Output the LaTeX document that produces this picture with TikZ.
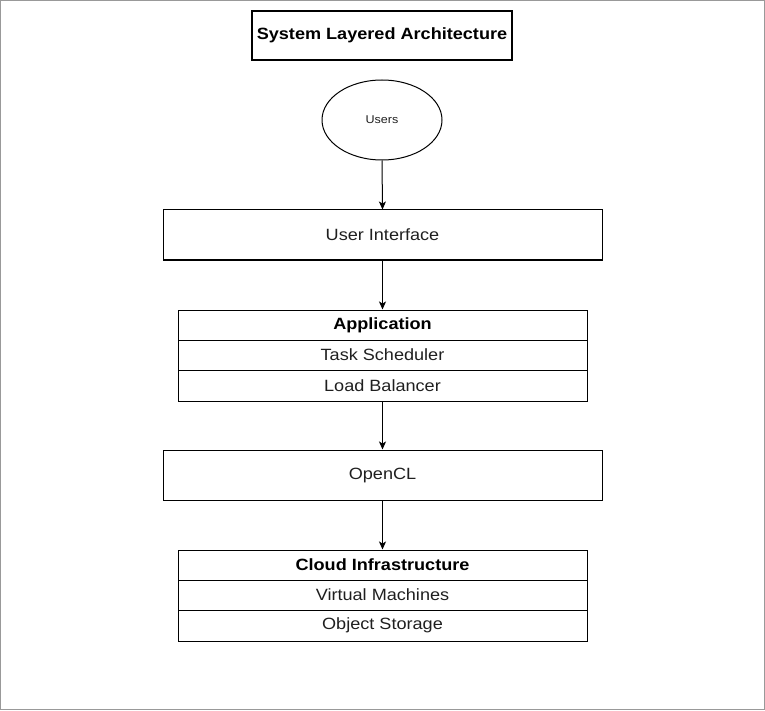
\documentclass[tikz,border=0pt]{standalone}
\usepackage{fontspec}
\setmainfont{Liberation Sans}[FakeStretch=1.11]
\usetikzlibrary{arrows.meta,shapes.geometric}
\begin{document}
\begin{tikzpicture}[x=1pt,y=-1pt,
  box/.style={draw=black,line width=1pt,minimum width=#1,minimum height=50pt,inner sep=0pt,font=\fontsize{16.3}{19}\selectfont,text=black!88},
  row/.style={draw=black,line width=1pt,minimum width=409pt,minimum height=30pt,inner sep=0pt,font=\fontsize{16.3}{19}\selectfont,text=black!88},
  hdr/.style={row,font=\fontsize{16.3}{19}\selectfont\bfseries,text=black},
  arr/.style={line width=1pt,-{Stealth[length=8pt,width=7pt,inset=2pt]}}]
\useasboundingbox (0,0) rectangle (765,711);
\draw[gray!80,line width=1pt] (0.5,0.5) rectangle (764,709.5);
\node[draw=black,line width=2.5pt,minimum width=260pt,minimum height=49pt,inner sep=0pt,font=\fontsize{16.3}{19}\selectfont\bfseries] (title) at (382,35.5) {System Layered Architecture};
\node[ellipse,draw=black,line width=1pt,minimum width=120pt,minimum height=80pt,inner sep=0pt,font=\fontsize{11.3}{13}\selectfont,text=black!88] (users) at (382,120) {Users};
\node[box=439pt] (ui) at (382.5,235) {User Interface};
\node[hdr] (app) at (382.5,325) {Application};
\node[row] (ts) at (382.5,355) {Task Scheduler};
\node[row,minimum height=31pt] (lb) at (382.5,385.5) {Load Balancer};
\node[box=439pt] (ocl) at (382.5,475) {OpenCL};
\node[hdr] (cloud) at (382.5,565) {Cloud Infrastructure};
\node[row] (vm) at (382.5,595) {Virtual Machines};
\node[row,minimum height=31pt] (os) at (382.5,625.5) {Object Storage};
\draw[arr] (users.south) -- (ui.north);
\draw[arr] (ui.south) -- (app.north);
\draw[arr] (lb.south) -- (ocl.north);
\draw[arr] (ocl.south) -- (cloud.north);
\end{tikzpicture}
\end{document}
